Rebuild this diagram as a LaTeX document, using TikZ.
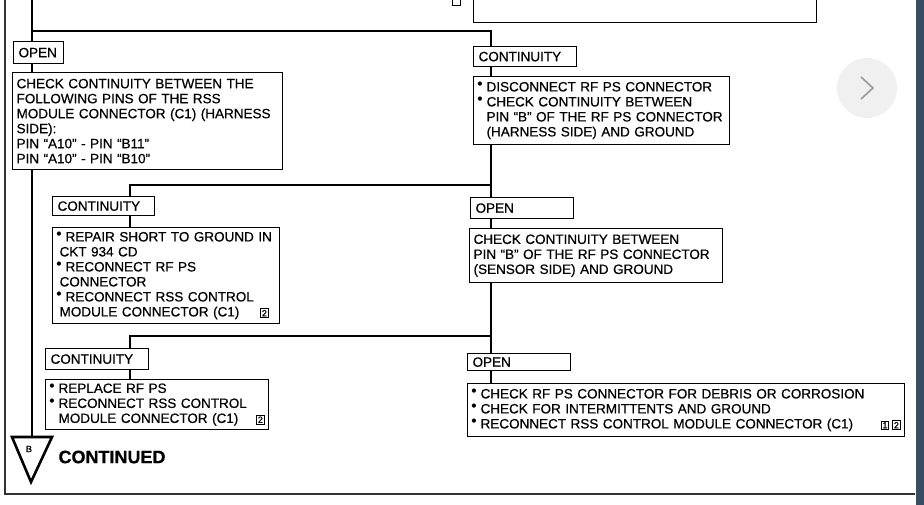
\documentclass[tikz,border=0pt]{standalone}
\usepackage{fontspec}
\setmainfont{Liberation Sans}[FakeBold=0.5]
\newfontfamily\symfont{DejaVu Sans}
\usetikzlibrary{backgrounds}
\definecolor{edgeblue}{RGB}{58,76,96}
\definecolor{navgray}{RGB}{240,240,240}
\newcommand{\bul}{\makebox[9pt][l]{\raisebox{5.6pt}{\fontsize{5.5}{5.5}\symfont ●}}}
\newcommand{\refno}[1]{{\setlength\fboxsep{1pt}\setlength\fboxrule{0.7pt}\fbox{\fontsize{9}{9}\selectfont #1}}}

\begin{document}
\begin{tikzpicture}
    [
    x=1pt,y=-1pt,
    tag/.style={draw,fill=white,line width=1.2pt,anchor=north west,inner xsep=5pt,inner ysep=0pt,align=left,font=\fontsize{13.5}{15}\selectfont},
    action/.style={draw,fill=white,line width=1.2pt,anchor=north west,inner xsep=4pt,inner ysep=2pt,align=left,font=\fontsize{13.5}{15}\selectfont},
    flow/.style={line width=2.6pt}
    ]
    \useasboundingbox (0,0) rectangle (924,505);
    \clip (0,0) rectangle (924,505);
    % page frame and screen edge
    \draw [line width=1.2pt,black!80] (5,0) -- (5,494) -- (915,494);
    \fill [edgeblue] (916,0) rectangle (924,505);
    \node (nav) at (867,88) [circle,fill=navgray,minimum size=60pt] {};
    \draw [line width=1.6pt,black!40] (861,77) -- (873,88) -- (861,99);
    % previous step
    \node (prev) at (473,-30) [action,minimum width=343pt,minimum height=52pt] {};
    \node (prevref) at (452,-4) [draw,line width=0.6pt,anchor=north west,minimum width=8pt,minimum height=9pt] {};
    % first level
    \node (open1) at (13,41) [tag,text width=40pt,minimum height=22pt] {OPEN};
    \node (pins) at (12,72) [action,text width=262pt,minimum height=97pt] {CHECK CONTINUITY BETWEEN THE\\FOLLOWING PINS OF THE RSS\\MODULE CONNECTOR (C1) (HARNESS\\SIDE):\\PIN “A10” - PIN “B11”\\PIN “A10” - PIN “B10”};
    \node (cont1) at (473,46) [tag,text width=93pt,minimum height=20pt] {CONTINUITY};
    \node (harness) at (473,76) [action,text width=248pt,minimum height=68pt] {\bul DISCONNECT RF PS CONNECTOR\\\bul CHECK CONTINUITY BETWEEN\\\hspace*{9pt}PIN “B” OF THE RF PS CONNECTOR\\\hspace*{9pt}(HARNESS SIDE) AND GROUND};
    % second level
    \node (cont2) at (52,196) [tag,text width=92pt,minimum height=19pt] {CONTINUITY};
    \node (repair) at (52,227) [action,text width=219pt,minimum height=96pt] {\bul REPAIR SHORT TO GROUND IN\\\hspace*{3pt}CKT 934 CD\\\bul RECONNECT RF PS\\\hspace*{3pt}CONNECTOR\\\bul RECONNECT RSS CONTROL\\\hspace*{3pt}MODULE CONNECTOR (C1)\hfill\refno{2}\kern7pt};
    \node (open2) at (470,197) [tag,text width=93pt,minimum height=21pt] {OPEN};
    \node (sensor) at (469,228) [action,text width=245pt,minimum height=54pt] {CHECK CONTINUITY BETWEEN\\PIN “B” OF THE RF PS CONNECTOR\\(SENSOR SIDE) AND GROUND};
    % third level
    \node (cont3) at (45,348) [tag,text width=93pt,minimum height=21pt] {CONTINUITY};
    \node (replace) at (45,379) [action,text width=215pt,minimum height=50pt] {\bul REPLACE RF PS\\\bul RECONNECT RSS CONTROL\\\hspace*{9pt}MODULE CONNECTOR (C1)\hfill\refno{2}};
    \node (open3) at (467,353) [tag,text width=93pt,minimum height=17pt] {OPEN};
    \node (debris) at (467,383) [action,text width=429pt,minimum height=53pt] {\bul CHECK RF PS CONNECTOR FOR DEBRIS OR CORROSION\\\bul CHECK FOR INTERMITTENTS AND GROUND\\\bul RECONNECT RSS CONTROL MODULE CONNECTOR (C1)\hfill\refno{1}\kern3pt\refno{2}};
    % off-page connector
    \coordinate (tl) at (12,437);
    \coordinate (tr) at (52,437);
    \coordinate (tip) at (31,482);
    \coordinate (tritop) at (32,437);
    \draw [flow,line join=miter] (tl) -- (tr) -- (tip) -- cycle;
    \node (bmark) at (29,449) [font=\fontsize{9}{9}\selectfont] {B};
    \node (cont) at (55,457) [anchor=west,font=\fontsize{18}{18}\selectfont\bfseries] {CONTINUED};
    % flow lines
    \coordinate (top) at (32,0);
    \coordinate (j0) at (32,31);
    \coordinate (j1) at (491,31);
    \coordinate (j3) at (491,185);
    \coordinate (j4) at (130,185);
    \coordinate (j5) at (491,336);
    \coordinate (j6) at (130,336);
    \begin{scope}[on background layer]
    \draw [flow] (top) -- (tritop);
    \draw [flow] (j0) -- (j1) -- (j1 |- debris.north);
    \draw [flow] (j3) -- (j4) -- (j4 |- repair.north);
    \draw [flow] (j5) -- (j6) -- (j6 |- replace.north);
    \end{scope}
\end{tikzpicture}
\end{document}
